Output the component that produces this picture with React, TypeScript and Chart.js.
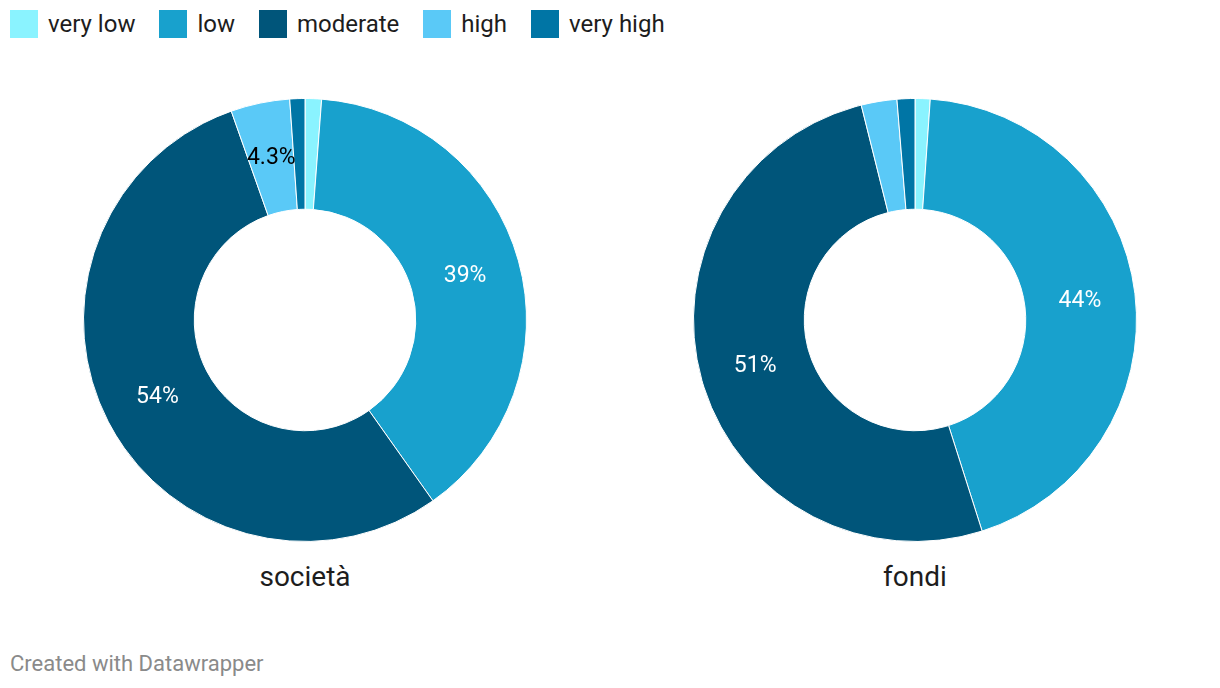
import React, { useEffect, useRef } from "react";
import { Chart, registerables } from "chart.js";

Chart.register(...registerables);

const categories = ["very low", "low", "moderate", "high", "very high"];
const colors = ["#8af3ff", "#18a1cd", "#00557a", "#5ac9f7", "#0075a5"];
const labelColors = ["#000000", "#ffffff", "#ffffff", "#000000", "#ffffff"];
const societaValues = [1.2, 39.0, 54.4, 4.3, 1.1];
const fondiValues = [1.1, 44.0, 51.0, 2.6, 1.3];
const chartTitles = ["società", "fondi"];

const FONT = "Roboto, 'Noto Sans', sans-serif";

function fmt(v: number) {
  return v >= 10 ? Math.round(v) + "%" : v.toFixed(1) + "%";
}

const labelPlugin = {
  id: "sliceLabels",
  afterDatasetsDraw(chart: any) {
    const ctx = chart.ctx;
    const meta = chart.getDatasetMeta(0);
    const data = chart.data.datasets[0].data as number[];
    ctx.save();
    ctx.font = `23px ${FONT}`;
    ctx.textAlign = "center";
    ctx.textBaseline = "middle";
    meta.data.forEach((arc: any, i: number) => {
      const v = data[i];
      if (v < 3) return;
      const p = arc.getCenterPoint();
      ctx.fillStyle = labelColors[i];
      ctx.fillText(fmt(v), p.x, p.y + 1);
    });
    ctx.restore();
  },
};

function Donut({ values, left }: { values: number[]; left: number }) {
  const ref = useRef<HTMLCanvasElement>(null);
  useEffect(() => {
    if (!ref.current) return;
    const chart = new Chart(ref.current, {
      type: "doughnut",
      data: {
        labels: categories,
        datasets: [
          {
            data: values,
            backgroundColor: colors,
            borderColor: "#ffffff",
            borderWidth: 1,
          },
        ],
      },
      options: {
        responsive: false,
        animation: false,
        cutout: "50%",
        layout: { padding: 0 },
        plugins: {
          legend: { display: false },
          tooltip: { enabled: false },
        },
      },
      plugins: [labelPlugin],
    });
    return () => chart.destroy();
  }, [values]);
  return (
    <canvas
      ref={ref}
      width={444}
      height={444}
      style={{ position: "absolute", left, top: 98, width: 444, height: 444 }}
    />
  );
}

export default function App() {
  const centers = [305, 915];
  return (
    <div
      style={{
        position: "absolute",
        left: 0,
        top: 0,
        width: 1220,
        height: 688,
        background: "#ffffff",
        fontFamily: FONT,
        color: "#1d1d1d",
      }}
    >
      <div
        style={{
          position: "absolute",
          left: 10,
          top: 10,
          display: "flex",
          alignItems: "center",
          height: 28,
        }}
      >
        {categories.map((c, i) => (
          <div key={c} style={{ display: "flex", alignItems: "center", marginRight: 24 }}>
            <div style={{ width: 28, height: 28, background: colors[i], marginRight: 10 }} />
            <span style={{ fontSize: 24, lineHeight: "28px" }}>{c}</span>
          </div>
        ))}
      </div>
      <Donut values={societaValues} left={centers[0] - 222} />
      <Donut values={fondiValues} left={centers[1] - 222} />
      {chartTitles.map((t, i) => (
        <div
          key={t}
          style={{
            position: "absolute",
            left: centers[i] - 150,
            width: 300,
            top: 560,
            textAlign: "center",
            fontSize: 28,
            lineHeight: "34px",
          }}
        >
          {t}
        </div>
      ))}
      <div
        style={{
          position: "absolute",
          left: 10,
          top: 651,
          fontSize: 22,
          lineHeight: "26px",
          color: "#8a8a8a",
        }}
      >
        Created with Datawrapper
      </div>
    </div>
  );
}
